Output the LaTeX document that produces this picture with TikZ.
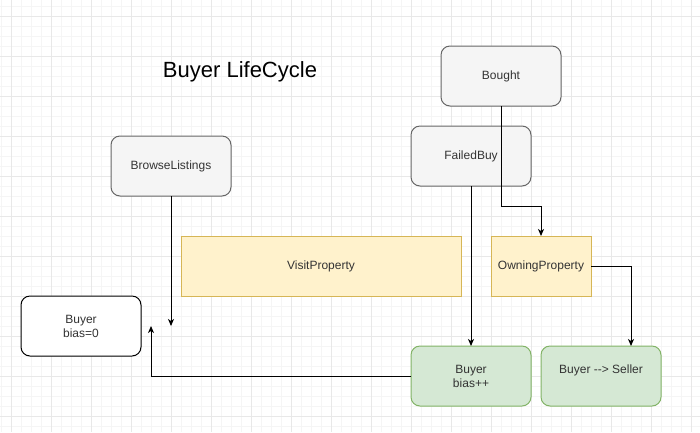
\documentclass[tikz,border=0pt]{standalone}
\usepackage{fontspec}
\setmainfont{Liberation Sans}
\usetikzlibrary{arrows.meta}
\definecolor{gridminor}{HTML}{F5F5F5}
\definecolor{gridmajor}{HTML}{E8E8E8}
\definecolor{grayfill}{HTML}{F5F5F5}
\definecolor{graystroke}{HTML}{666666}
\definecolor{graytext}{HTML}{333333}
\definecolor{yelfill}{HTML}{FFF2CC}
\definecolor{yelstroke}{HTML}{D6B656}
\definecolor{grnfill}{HTML}{D5E8D4}
\definecolor{grnstroke}{HTML}{82B366}
\tikzset{
  box/.style={minimum width=120pt,minimum height=60pt,inner sep=0pt,outer sep=0pt,line width=1pt,align=center,font=\fontsize{12}{14}\selectfont},
  graybox/.style={box,rounded corners=9pt,draw=graystroke,fill=grayfill,text=graytext},
  yelbox/.style={box,draw=yelstroke,fill=yelfill,text=graytext},
  grnbox/.style={box,rounded corners=9pt,draw=grnstroke,fill=grnfill,text=graytext},
  whitebox/.style={box,rounded corners=9pt,draw=black,fill=white,text=graytext},
  conn/.style={line width=1pt,-{Stealth[length=7pt,width=6pt,inset=2pt]}},
}
\begin{document}
\begin{tikzpicture}[x=1pt,y=-1pt]
\useasboundingbox (0,0) rectangle (700,432);
\fill[white] (0,0) rectangle (700,432);
\foreach \i in {0,...,69} {
  \draw[gridminor,line width=0.8pt] ({1.5+10*\i},0) -- ({1.5+10*\i},432);
}
\foreach \i in {0,...,43} {
  \draw[gridminor,line width=0.8pt] (0,{6+10*\i}) -- (700,{6+10*\i});
}
\foreach \i in {0,...,17} {
  \draw[gridmajor,line width=0.8pt] ({11.5+40*\i},0) -- ({11.5+40*\i},432);
}
\foreach \i in {0,...,10} {
  \draw[gridmajor,line width=0.8pt] (0,{16+40*\i}) -- (700,{16+40*\i});
}
\node[font=\fontsize{22}{26}\selectfont,text=black] (title) at (240,72) {Buyer LifeCycle};
\node[graybox] (bought) at (501,76) {Bought};
\node[graybox] (failed) at (471,156) {FailedBuy};
\node[graybox] (browse) at (171,166) {BrowseListings};
\node[yelbox,minimum width=280pt] (visit) at (321,266) {VisitProperty};
\node[yelbox,minimum width=100pt] (owning) at (541,266) {OwningProperty};
\node[whitebox] (bias0) at (81,326) {Buyer\\bias=0};
\node[grnbox] (biaspp) at (471,376) {Buyer\\bias++};
\node[grnbox] (seller) at (601,376) {Buyer {-}{-}> Seller\\\mbox{}};
\coordinate (browseend) at (171,326);
\coordinate (loopend) at (151,326);
\draw[conn] (browse.south) -- (browseend);
\draw[conn] (bought.south) -- (501,206) -- (541,206) -- (owning.north);
\draw[conn] (failed.south) -- (biaspp.north);
\draw[conn] (owning.east) -- (631,266) -- (seller.north -| 631,266);
\draw[conn] (biaspp.west) -- (151,376) -- (loopend);
\end{tikzpicture}
\end{document}
